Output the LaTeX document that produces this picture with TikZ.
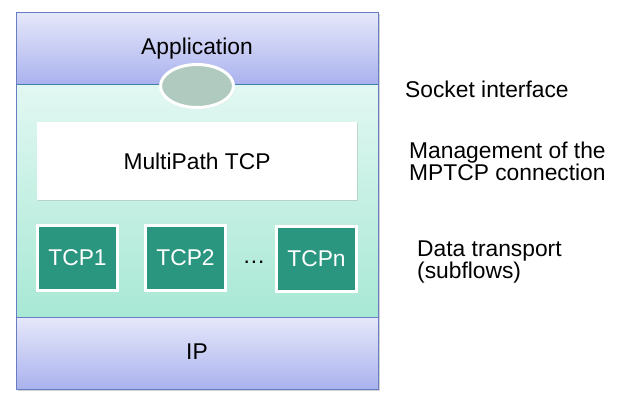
\documentclass[tikz,border=0pt]{standalone}
\usepackage{fontspec}
\setmainfont{Liberation Sans}
\usetikzlibrary{shadows,shapes.geometric}
\definecolor{apptop}{RGB}{230,232,250}
\definecolor{appbot}{RGB}{170,178,238}
\definecolor{midtop}{RGB}{226,248,242}
\definecolor{midbot}{RGB}{168,232,212}
\definecolor{edgeblue}{RGB}{105,125,195}
\definecolor{tcpgreen}{RGB}{42,150,128}
\definecolor{sockfill}{RGB}{176,202,192}
\tikzset{
  every node/.style={font=\fontsize{22.8}{22}\selectfont},
  softshadow/.style={drop shadow={opacity=0.25,shadow xshift=1.2pt,shadow yshift=-1.2pt}},
  layerbox/.style={draw=edgeblue,line width=0.8pt,top color=apptop,bottom color=appbot},
  midbox/.style={draw=edgeblue!60!teal,line width=0.6pt,top color=midtop,bottom color=midbot},
  mpbox/.style={fill=white,minimum width=320pt,minimum height=78pt,softshadow},
  tcpbox/.style={fill=tcpgreen,draw=white,line width=3pt,text=white,minimum width=80pt,minimum height=65pt,softshadow},
  sockbox/.style={ellipse,fill=sockfill,draw=white,line width=3pt,minimum width=73pt,minimum height=43pt,softshadow},
  sidelabel/.style={align=left,anchor=base west,inner sep=0pt}
}
\begin{document}
\begin{tikzpicture}[x=1pt,y=-1pt]
\useasboundingbox (0,0) rectangle (620,400);
% outer shadow
\fill[black,opacity=0.18] (18,14) rectangle (380,391);
% layers
\draw[layerbox] (16,12) rectangle (378,84);
\draw[midbox] (16,84) rectangle (378,317);
\draw[layerbox] (16,317) rectangle (378,389);
\draw[edgeblue,line width=0.8pt] (16,12) rectangle (378,389);
\node (app) at (197,49) {Application};
\node[sockbox] (sock) at (197,86) {};
\node[mpbox] (mp) at (197,161) {MultiPath TCP};
\node[tcpbox] (t1) at (77.5,258) {TCP1};
\node[tcpbox] (t2) at (185.5,258) {TCP2};
\node (dots) at (254,262) {\dots};
\node[tcpbox] (tn) at (316.5,259) {TCPn};
\node (ip) at (197,352) {IP};
% side labels
\node[sidelabel] (l1) at (405,97) {Socket interface};
\node[sidelabel] (l2) at (409,180) {Management of the\\MPTCP connection};
\node[sidelabel] (l3) at (417,278) {Data transport\\(subflows)};
\end{tikzpicture}
\end{document}
